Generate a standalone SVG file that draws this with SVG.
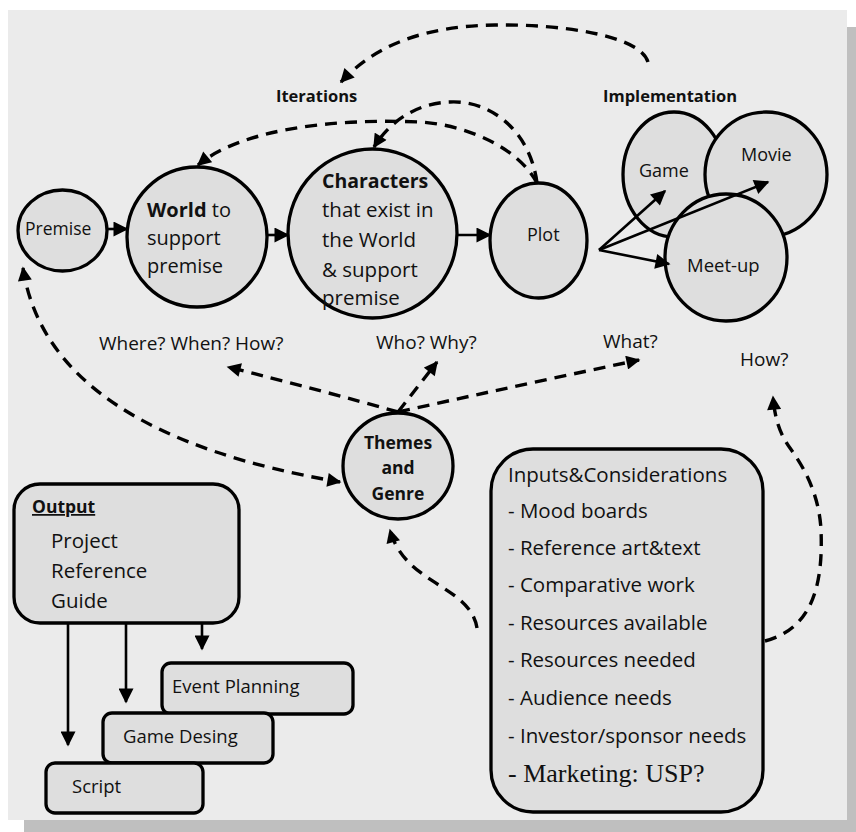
<svg xmlns="http://www.w3.org/2000/svg" width="856" height="832" viewBox="0 0 856 832">
<style>
.nd{fill:#DEDEDE;stroke:#000;stroke-width:3.3}
.t{font-family:'Open Sans','Liberation Sans',sans-serif;fill:#111}
.b{font-weight:bold}
.sv{font-family:'Liberation Serif','Times New Roman',serif;fill:#111}
.sl{fill:none;stroke:#000;stroke-width:2.6}
.dl{fill:none;stroke:#000;stroke-width:3.4;stroke-dasharray:12 8}
</style>
<defs>
<marker id="ah" viewBox="0 0 10 10" refX="9" refY="5" markerWidth="15" markerHeight="14" markerUnits="userSpaceOnUse" orient="auto-start-reverse"><path d="M0,0 L10,5 L0,10 z" fill="#000"/></marker>
<marker id="as" viewBox="0 0 10 10" refX="9" refY="5" markerWidth="16" markerHeight="15" markerUnits="userSpaceOnUse" orient="auto"><path d="M0,0 L10,5 L0,10 z" fill="#000"/></marker>
</defs>
<rect x="24" y="27" width="832" height="805" fill="#BFBFBF"/>
<rect x="8" y="10" width="839" height="810" fill="#EBEBEB"/>

<g id="premise"><ellipse class="nd" cx="62.5" cy="230.5" rx="44.5" ry="40.5"/><text class="t" x="25" y="235" font-size="17.5">Premise</text></g>
<g id="world"><ellipse class="nd" cx="197" cy="237" rx="70" ry="70"/>
<text class="t" font-size="20"><tspan x="147" y="217"><tspan class="b">World</tspan> to</tspan><tspan x="147" y="245">support</tspan><tspan x="147" y="273">premise</tspan></text></g>
<g id="characters"><ellipse class="nd" cx="372.5" cy="233.5" rx="84.5" ry="84.5"/>
<text class="t" font-size="20.5"><tspan x="322" y="188" class="b" font-size="19.5">Characters</tspan><tspan x="322" y="217">that exist in</tspan><tspan x="322" y="247">the World</tspan><tspan x="322" y="277">&amp; support</tspan><tspan x="322" y="305">premise</tspan></text></g>
<g id="plot"><ellipse class="nd" cx="538.5" cy="240.5" rx="48.5" ry="57.5"/><text class="t" x="527" y="241" font-size="18">Plot</text></g>
<g id="game"><ellipse class="nd" cx="674" cy="174.5" rx="51" ry="62.5"/><text class="t" x="639" y="177" font-size="18">Game</text></g>
<g id="movie"><ellipse class="nd" cx="766" cy="174.5" rx="61" ry="62.5"/><text class="t" x="741" y="161" font-size="18">Movie</text></g>
<g id="meetup"><ellipse class="nd" cx="726" cy="257.5" rx="61" ry="63.5"/><text class="t" x="687" y="272" font-size="18.5">Meet-up</text></g>
<g id="themes"><ellipse class="nd" cx="398" cy="466" rx="55" ry="53"/>
<text class="t b" font-size="17.5" text-anchor="middle"><tspan x="398" y="449">Themes</tspan><tspan x="398" y="474">and</tspan><tspan x="398" y="500">Genre</tspan></text></g>

<g id="labels">
<text class="t b" x="276" y="102" font-size="16.5">Iterations</text>
<text class="t b" x="603" y="102" font-size="16.5">Implementation</text>
<text class="t" x="99" y="350" font-size="19">Where? When? How?</text>
<text class="t" x="376" y="349" font-size="19">Who? Why?</text>
<text class="t" x="603" y="348" font-size="19">What?</text>
<text class="t" x="740" y="366" font-size="19">How?</text>
</g>

<g id="output"><rect class="nd" x="14" y="484" width="225" height="139" rx="26"/>
<text class="t b" x="32" y="513" font-size="17.5" text-decoration="underline">Output</text>
<text class="t" font-size="20.5"><tspan x="51" y="548">Project</tspan><tspan x="51" y="578">Reference</tspan><tspan x="51" y="608">Guide</tspan></text></g>
<g id="event"><rect class="nd" x="162" y="663" width="191" height="51" rx="9"/><text class="t" x="172" y="693" font-size="18.5">Event Planning</text></g>
<g id="gamedesing"><rect class="nd" x="103" y="713" width="170" height="50" rx="9"/><text class="t" x="123" y="743" font-size="18.5">Game Desing</text></g>
<g id="script"><rect class="nd" x="46" y="763" width="157" height="50" rx="9"/><text class="t" x="72" y="793" font-size="18.5">Script</text></g>

<g id="inputs"><rect class="nd" x="491" y="449" width="272" height="363" rx="42"/>
<text class="t" font-size="20.5"><tspan x="508" y="482">Inputs&amp;Considerations</tspan><tspan x="508" y="518">- Mood boards</tspan><tspan x="508" y="555">- Reference art&amp;text</tspan><tspan x="508" y="592">- Comparative work</tspan><tspan x="508" y="630">- Resources available</tspan><tspan x="508" y="667">- Resources needed</tspan><tspan x="508" y="705">- Audience needs</tspan><tspan x="508" y="743">- Investor/sponsor needs</tspan></text>
<text class="sv" x="508" y="782" font-size="26">- Marketing: USP?</text></g>

<g id="connectors">
<path class="sl" d="M107,229 L127,229" marker-end="url(#as)"/>
<path class="sl" d="M267,235 L288,235" marker-end="url(#as)"/>
<path class="sl" d="M457,235 L490,235" marker-end="url(#as)"/>
<path class="sl" d="M599,250 L665,191" marker-end="url(#as)"/>
<path class="sl" d="M599,250 L768,182" marker-end="url(#as)"/>
<path class="sl" d="M599,250 L669,264" marker-end="url(#as)"/>
<path class="sl" d="M68,623 V745" marker-end="url(#as)"/>
<path class="sl" d="M126,623 V702" marker-end="url(#as)"/>
<path class="sl" d="M202,623 V649" marker-end="url(#as)"/>
<path class="dl" d="M648,62 C640,35 560,24 495,25 C430,26 378,42 341,82" marker-end="url(#ah)"/>
<path class="dl" d="M537,183 C530,130 490,100 450,102 C420,103 392,118 374,147" marker-end="url(#ah)"/>
<path class="dl" d="M537,183 C520,150 470,125 420,122 C330,118 240,130 198,165" marker-end="url(#ah)"/>
<path class="dl" d="M398,412 Q320,390 228,367" marker-end="url(#ah)"/>
<path class="dl" d="M398,412 L437,362" marker-end="url(#ah)"/>
<path class="dl" d="M398,412 Q520,385 639,360" marker-end="url(#ah)"/>
<path class="dl" d="M23,268 C40,380 150,450 340,482" marker-start="url(#ah)" marker-end="url(#ah)"/>
<path class="dl" d="M477,628 C470,585 405,585 390,530" marker-end="url(#ah)"/>
<path class="dl" d="M765,641 C815,628 823,580 821,530 C819,490 800,462 790,448 C780,434 775,420 773,397" marker-end="url(#ah)"/>
</g>
</svg>
